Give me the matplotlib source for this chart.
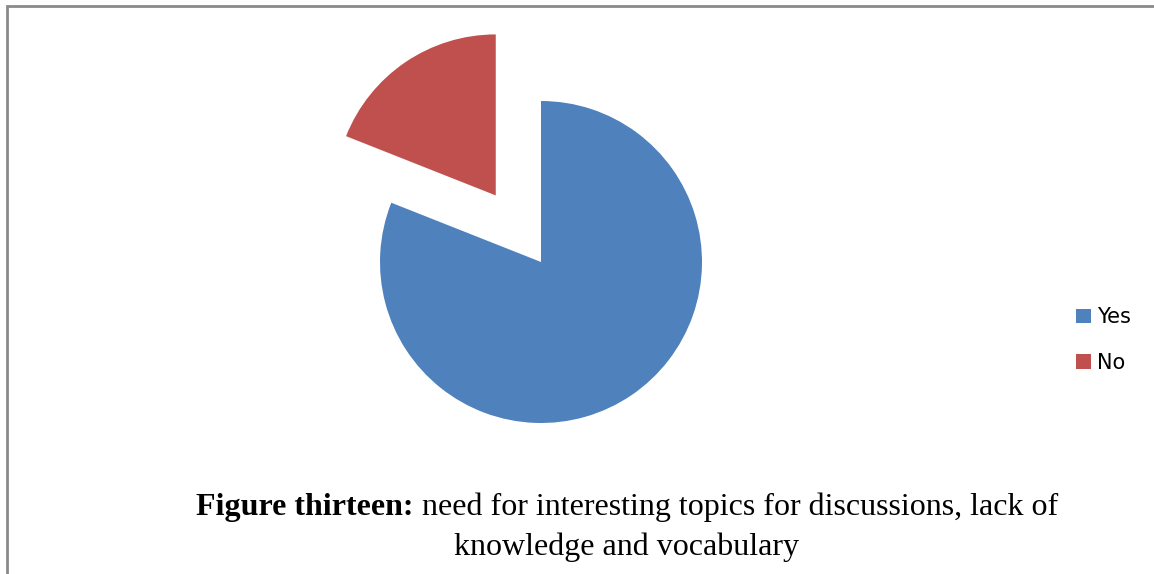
import matplotlib.pyplot as plt
from matplotlib.patches import Rectangle

labels = ["Yes", "No"]
shares = [81, 19]
colors = ["#4F81BD", "#C0504D"]
explode = [0, 0.5]

W, H = 1154, 574
fig = plt.figure(figsize=(W / 100, H / 100), dpi=100)

# pie axes: radius 1 = 161 px, centred at (541, 262) from top-left
r = 161
cx, cy = 541, H - 262
ax = fig.add_axes([(cx - 2 * r) / W, (cy - 2 * r) / H, 4 * r / W, 4 * r / H])
wedges, _ = ax.pie(shares, colors=colors, explode=explode, startangle=90,
                   counterclock=False, radius=1)
ax.set_xlim(-2, 2)
ax.set_ylim(-2, 2)
ax.set_aspect("auto")
ax.axis("off")

fig.legend(wedges, labels, loc="center left", bbox_to_anchor=(1076 / W, 1 - 340 / H),
           frameon=False, prop={"family": "DejaVu Sans", "size": 15},
           handlelength=0.72, handleheight=0.72, handletextpad=0.3,
           labelspacing=1.22, borderpad=0, borderaxespad=0)

# frame around the chart area
fig.patches.append(Rectangle((7 / W, -0.1), 1.2, 1 - 6 / H + 0.1,
                             transform=fig.transFigure, fill=False,
                             edgecolor="#8a8a8a", linewidth=2))

# caption: bold lead-in followed by regular text
fs = 23
serif = "Liberation Serif"
t1 = fig.text(0, 1 - 515 / H, "Figure thirteen:", family=serif, weight="bold",
              fontsize=fs, ha="left", va="baseline")
t2 = fig.text(0, 1 - 515 / H, " need for interesting topics for discussions, lack of",
              family=serif, fontsize=fs, ha="left", va="baseline")
fig.text(627 / W, 1 - 555 / H, "knowledge and vocabulary", family=serif,
         fontsize=fs, ha="center", va="baseline")

fig.canvas.draw()
r_ = fig.canvas.get_renderer()
w1 = t1.get_window_extent(r_).width
w2 = t2.get_window_extent(r_).width
x0 = 627 - (w1 + w2) / 2
t1.set_x(x0 / W)
t2.set_x((x0 + w1) / W)

fig.savefig("out.png", dpi=100)
